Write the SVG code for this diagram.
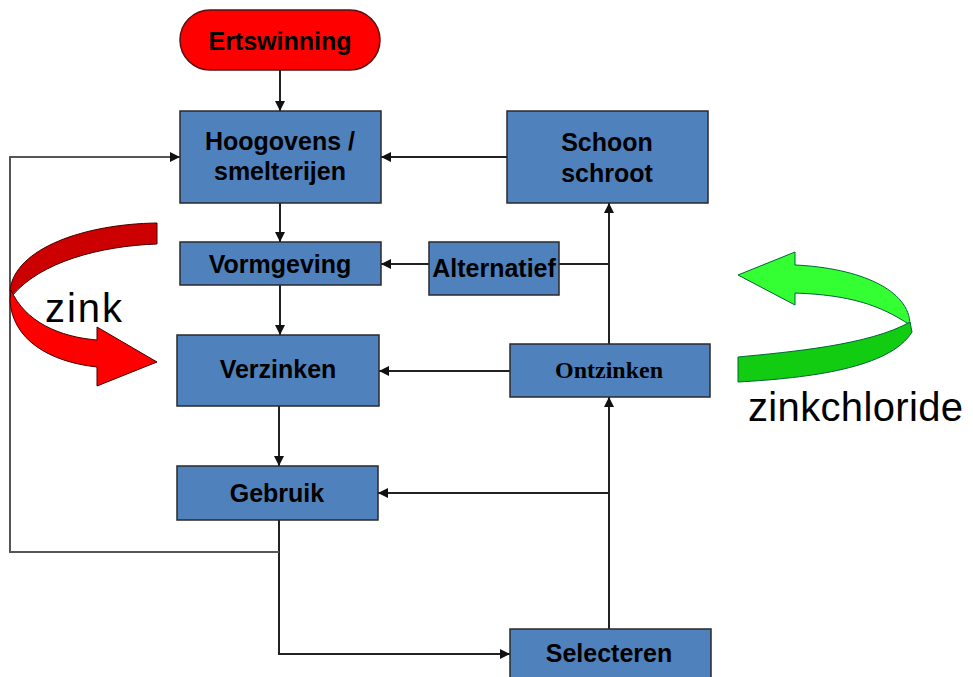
<svg xmlns="http://www.w3.org/2000/svg" width="973" height="677" viewBox="0 0 973 677">
<style>
.box{fill:#4F81BD;stroke:#2a2a2a;stroke-width:1.5}
.lbl{font-family:"Liberation Sans",Arial,sans-serif;font-weight:bold;font-size:25px;fill:#000;text-anchor:middle}
.serif{font-family:"Liberation Serif","Times New Roman",serif;font-weight:bold;font-size:24px;fill:#000;text-anchor:middle}
.big{font-family:"Liberation Sans",Arial,sans-serif;font-size:40px;fill:#000}
.con{fill:none;stroke:#222;stroke-width:2}
.conA{fill:none;stroke:#222;stroke-width:2;marker-end:url(#ah)}
</style>
<defs>
<marker id="ah" viewBox="0 0 10 10" refX="10" refY="5" markerWidth="10" markerHeight="10" markerUnits="userSpaceOnUse" orient="auto"><path d="M0,0 L10,5 L0,10 z" fill="#111"/></marker>
</defs>
<rect width="973" height="677" fill="#fff"/>
<g id="connectors">
<path class="conA" d="M280,70 V111"/>
<path class="conA" d="M280,203 V242"/>
<path class="conA" d="M280,285 V335"/>
<path class="conA" d="M279,406 V466"/>
<path class="conA" d="M507,157 H381"/>
<path class="conA" d="M429,264 H381"/>
<path class="con" d="M559,264 H609"/>
<path class="conA" d="M510,371 H379"/>
<path class="conA" d="M609,344 V203"/>
<path class="conA" d="M609,629 V397"/>
<path class="conA" d="M609,493 H378"/>
<path class="conA" d="M279,520 V654 H510"/>
<path class="conA" d="M279,552 H10 V157 H180" style="stroke:#555"/>
</g>
<g id="ertswinning">
<rect x="180" y="10" width="200" height="60" rx="30" fill="#FF0000" stroke="#5a1010" stroke-width="1.5"/>
<text class="lbl" x="280" y="50">Ertswinning</text>
</g>
<g id="hoogovens">
<rect class="box" x="180" y="111" width="201" height="92"/>
<text class="lbl" x="280" y="150">Hoogovens /</text>
<text class="lbl" x="280" y="180">smelterijen</text>
</g>
<g id="schoon">
<rect class="box" x="507" y="111" width="201" height="92"/>
<text class="lbl" x="607" y="151">Schoon</text>
<text class="lbl" x="607" y="182">schroot</text>
</g>
<g id="vormgeving">
<rect class="box" x="180" y="242" width="201" height="43"/>
<text class="lbl" x="280" y="273">Vormgeving</text>
</g>
<g id="alternatief">
<rect class="box" x="429" y="242" width="130" height="53"/>
<text class="lbl" x="494" y="277">Alternatief</text>
</g>
<g id="verzinken">
<rect class="box" x="177" y="335" width="202" height="71"/>
<text class="lbl" x="278" y="378">Verzinken</text>
</g>
<g id="ontzinken">
<rect class="box" x="510" y="344" width="200" height="53"/>
<text class="serif" x="609" y="378">Ontzinken</text>
</g>
<g id="gebruik">
<rect class="box" x="177" y="466" width="201" height="54"/>
<text class="lbl" x="277" y="502">Gebruik</text>
</g>
<g id="selecteren">
<rect class="box" x="510" y="629" width="201" height="52"/>
<text class="lbl" x="609" y="662">Selecteren</text>
</g>
<g id="zink-arrow">
<path d="M157,223 C85,224 15,248 10,290 L12,296 C40,262 100,246 157,244 Z" fill="#CC0000" stroke="#400" stroke-width="1"/>
<path d="M11,290 C25,322 60,337 97,340 L97,327 L157,362 L97,386 L97,367 C50,362 12,340 10,300 Z" fill="#FF0000" stroke="#400" stroke-width="1"/>
<text class="big" x="45" y="322" textLength="77">zink</text>
</g>
<g id="zinkchloride-arrow">
<path d="M738,275 L795,252 L795,265 C860,268 910,290 910,325 C880,305 850,295 795,293 L795,305 Z" fill="#33FF33" stroke="#063" stroke-width="1"/>
<path d="M910,322 C870,345 790,352 738,357 L738,382 C810,378 890,368 912,332 Z" fill="#11CC11" stroke="#063" stroke-width="1"/>
<text class="big" x="748" y="421" textLength="215">zinkchloride</text>
</g>
</svg>
